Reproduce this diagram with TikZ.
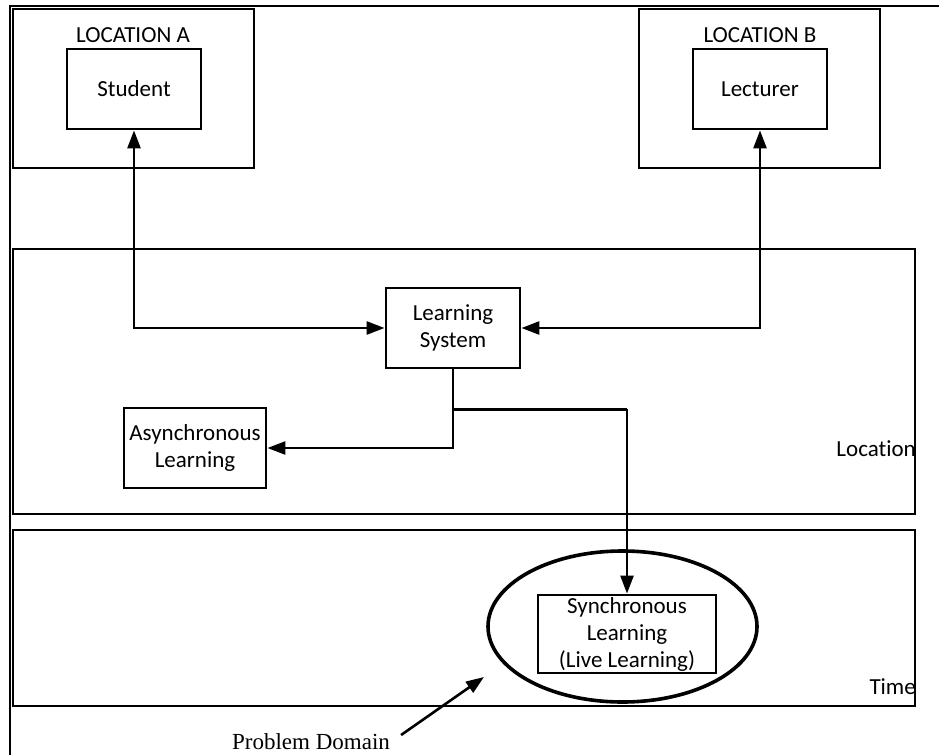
\documentclass[tikz,border=0pt]{standalone}
\usepackage{fontspec}
\setmainfont{Carlito}[Ligatures={NoCommon}]
\newfontfamily\pdfont{Liberation Serif}
\usetikzlibrary{arrows.meta,shapes.geometric,calc}
\tikzset{
  region/.style={draw, line width=2.8pt, rectangle, inner sep=0pt},
  box/.style={draw, line width=2.8pt, rectangle, inner sep=0pt, align=center, font=\fontsize{23}{27}\selectfont},
  lbl/.style={inner sep=0pt, font=\fontsize{23}{27}\selectfont},
  conn/.style={line width=2.6pt, -{Triangle[length=18pt,width=13pt]}},
  bconn/.style={line width=2.6pt, {Triangle[length=18pt,width=13pt]}-{Triangle[length=18pt,width=13pt]}},
  frame/.style={line width=2.2pt}
}
\begin{document}
\begin{tikzpicture}[x=1pt,y=-1pt]
\useasboundingbox (0,0) rectangle (939,755);
\fill[white] (0,0) rectangle (939,755);
% outer frame
\coordinate (fa) at (10,755);
\coordinate (fb) at (10,6);
\coordinate (fc) at (939,6);
\draw[frame] (fa) -- (fb) -- (fc);
% location boxes
\node[region, minimum width=241pt, minimum height=159pt] (locA) at (133.5,88.5) {};
\node[lbl] (locAlbl) at (133,35) {LOCATION A};
\node[box, minimum width=134pt, minimum height=80pt] (student) at (134,89) {Student};
\node[region, minimum width=241pt, minimum height=159pt] (locB) at (759.5,88.5) {};
\node[lbl] (locBlbl) at (760,35) {LOCATION B};
\node[box, minimum width=134pt, minimum height=80pt] (lecturer) at (760,89) {Lecturer};
% regions
\node[region, minimum width=902pt, minimum height=265pt] (locreg) at (464,381.5) {};
\node[lbl, anchor=east] (loclbl) at (916,449) {Location};
\node[region, minimum width=902pt, minimum height=176pt] (timereg) at (464,618) {};
\node[lbl, anchor=east] (timelbl) at (916,687) {Time};
% inner nodes
\node[box, minimum width=134pt, minimum height=80pt] (ls) at (453,328) {Learning\\System};
\node[box, minimum width=142pt, minimum height=80pt] (async) at (195,448) {Asynchronous\\Learning};
\node[draw, ellipse, line width=3.6pt, minimum width=269pt, minimum height=151pt, inner sep=0pt] (dom) at (622.5,626.5) {};
\node[box, minimum width=178pt, minimum height=78pt] (sync) at (627,634) {Synchronous\\Learning\\(Live Learning)};
\node[inner sep=0pt, font=\pdfont\fontsize{23}{27}\selectfont] (pd) at (311,742) {Problem Domain};
% connectors
\draw[bconn] (student.south) |- (ls.west);
\draw[bconn] (lecturer.south) |- (ls.east);
\draw[conn] (ls.south) |- (async.east);
\path (ls.south) ++(0,40) coordinate (br);
\draw[line width=2.6pt] (br) -- ($(br)+(174,0)$) coordinate (brr);
\draw[conn] (brr) -- (brr |- sync.north);
\coordinate (pdtip) at (484,677);
\draw[conn] ([xshift=11pt,yshift=7pt]pd.east) -- (pdtip);
\end{tikzpicture}
\end{document}
